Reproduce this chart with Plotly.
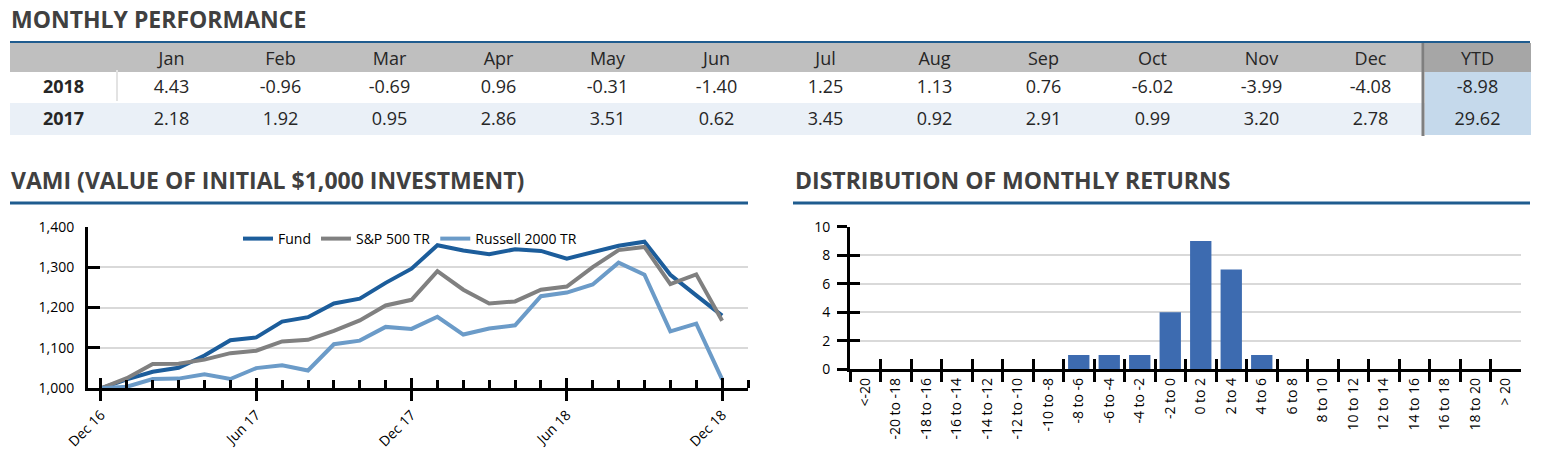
import plotly.graph_objects as go

# page is 1548x476; the html body adds an 8px margin around the figure
PAGE_W, PAGE_H, BODY_M = 1548, 476, 8
W, H = PAGE_W - 2 * BODY_M, PAGE_H - 2 * BODY_M

# ---------------- data ----------------
months = ["Jan", "Feb", "Mar", "Apr", "May", "Jun", "Jul", "Aug", "Sep", "Oct", "Nov", "Dec"]
years = ["2018", "2017"]
ret_2018 = [4.43, -0.96, -0.69, 0.96, -0.31, -1.40, 1.25, 1.13, 0.76, -6.02, -3.99, -4.08]
ret_2017 = [2.18, 1.92, 0.95, 2.86, 3.51, 0.62, 3.45, 0.92, 2.91, 0.99, 3.20, 2.78]
ytd = [-8.98, 29.62]

vami_idx = list(range(25))  # Dec 16 .. Dec 18, monthly
vami_ticks = [0, 6, 12, 18, 24]
vami_ticktext = ["Dec 16", "Jun 17", "Dec 17", "Jun 18", "Dec 18"]
fund = [1000, 1022, 1041, 1051, 1081, 1119, 1126, 1165, 1176, 1210, 1222, 1261, 1296,
        1354, 1341, 1332, 1344, 1340, 1321, 1338, 1353, 1363, 1281, 1230, 1180]
sp500 = [1000, 1025, 1060, 1061, 1071, 1087, 1093, 1116, 1120, 1142, 1168, 1205, 1219,
         1290, 1244, 1210, 1215, 1244, 1252, 1300, 1342, 1350, 1258, 1282, 1167]
russell = [1000, 1004, 1023, 1024, 1035, 1023, 1050, 1057, 1044, 1109, 1118, 1152, 1147,
           1177, 1133, 1148, 1156, 1228, 1237, 1257, 1311, 1281, 1141, 1160, 1022]

dist_bins = ["<-20", "-20 to -18", "-18 to -16", "-16 to -14", "-14 to -12", "-12 to -10",
             "-10 to -8", "-8 to -6", "-6 to -4", "-4 to -2", "-2 to 0", "0 to 2", "2 to 4",
             "4 to 6", "6 to 8", "8 to 10", "10 to 12", "12 to 14", "14 to 16", "16 to 18",
             "18 to 20", "> 20"]
dist_counts = [0, 0, 0, 0, 0, 0, 0, 1, 1, 1, 4, 9, 7, 1, 0, 0, 0, 0, 0, 0, 0, 0]

# ---------------- styling ----------------
FONT = "Open Sans"
TITLE_C = "#404040"
BLUE_LINE = "#1f5c8f"
C_FUND = "#1c5d9b"
C_SP = "#808080"
C_RUS = "#6b9bc8"
C_BAR = "#3d6bb0"
GRID = "#d9d9d9"


def px(x):
    return (x - BODY_M) / W


def py(y):
    return 1 - (y - BODY_M) / H


fig = go.Figure()

# ---------------- table ----------------
hdr_fill = ["#bfbfbf"] * 13 + ["#a6a6a6"]
row_fill = [["#ffffff", "#eaf0f7"]] * 13 + [["#c5d9eb", "#c5d9eb"]]
cols = [years]
for a, b in zip(ret_2018, ret_2017):
    cols.append([f"{a:.2f}", f"{b:.2f}"])
cols.append([f"{v:.2f}" for v in ytd])

fig.add_trace(go.Table(
    domain=dict(x=[px(10), px(1530)], y=[py(136), py(43)]),
    columnwidth=[107] + [109] * 12 + [105],
    header=dict(values=[""] + months + ["YTD"], fill_color=hdr_fill,
                line=dict(color=hdr_fill, width=1), height=28, align="center",
                font=dict(family=FONT, size=18, color="#262626")),
    cells=dict(values=cols, fill_color=row_fill, line=dict(color=row_fill, width=1),
               height=32, align="center",
               font=dict(family=FONT, size=18, color="#262626",
                         weight=["bold"] + ["normal"] * 13)),
))

# ---------------- VAMI lines ----------------
for name, ys, c in [("Fund", fund, C_FUND), ("S&P 500 TR", sp500, C_SP),
                    ("Russell 2000 TR", russell, C_RUS)]:
    fig.add_trace(go.Scatter(x=vami_idx, y=ys, name=name, mode="lines",
                             line=dict(color=c, width=4), xaxis="x", yaxis="y"))
# helper (empty) trace for inner half of crossing ticks
fig.add_trace(go.Scatter(x=[], y=[], xaxis="x3", yaxis="y", showlegend=False,
                         hoverinfo="skip"))

# ---------------- distribution bars ----------------
fig.add_trace(go.Bar(x=dist_bins, y=dist_counts, marker_color=C_BAR, showlegend=False,
                     xaxis="x2", yaxis="y2"))
fig.add_trace(go.Scatter(x=dist_bins, y=[None] * len(dist_bins), mode="markers",
                         xaxis="x4", yaxis="y4", showlegend=False, hoverinfo="skip"))

axfont = dict(family=FONT, size=14, color="#000000")
common = dict(automargin=False, zeroline=False)

fig.update_layout(
    template="none",
    width=W, height=H, margin=dict(l=0, r=0, t=0, b=0, pad=0, autoexpand=False),
    paper_bgcolor="white", plot_bgcolor="white",
    font=dict(family=FONT, color="#000000"),
    bargap=0.3, showlegend=True,
    legend=dict(orientation="h", x=px(238), y=py(223), xanchor="left", yanchor="top",
                font=dict(family=FONT, size=14, color="#000000"),
                bgcolor="rgba(0,0,0,0)", tracegroupgap=0, itemwidth=30),
    xaxis=dict(domain=[px(88), px(748)], range=[-0.5, 25], anchor="y",
               tickmode="array", tickvals=vami_ticks, ticktext=vami_ticktext,
               tickangle=-45, ticks="outside", ticklen=10, tickwidth=3, tickcolor="black",
               showline=True, linewidth=3, linecolor="black", showgrid=False,
               tickfont=axfont,
               minor=dict(ticks="inside", dtick=1, tick0=0, ticklen=8, tickwidth=3,
                          tickcolor="black", showgrid=False), **common),
    xaxis3=dict(overlaying="x", anchor="y", range=[-0.5, 25], tickmode="array",
                tickvals=vami_ticks, ticks="inside", ticklen=10, tickwidth=3,
                tickcolor="black", showticklabels=False, showline=False,
                showgrid=False, **common),
    yaxis=dict(domain=[py(388.3), py(226.7)], range=[1000, 1400], dtick=100,
               tickformat=",", anchor="x", ticks="inside", ticklen=12, tickwidth=3,
               tickcolor="black", showline=True, linewidth=3, linecolor="black",
               showgrid=True, gridcolor=GRID, gridwidth=2,
               tickfont=axfont, ticklabelstandoff=8, **common),
    xaxis2=dict(domain=[px(850), px(1521)], anchor="y2", type="category",
                range=[-0.5, 21.5], tickson="boundaries", ticks="outside", ticklen=10,
                tickwidth=3, tickcolor="black", tickangle=-90, showline=True,
                linewidth=3, linecolor="black", showgrid=False,
                tickfont=axfont, **common),
    xaxis4=dict(overlaying="x2", anchor="y2", type="category", range=[-0.5, 21.5],
                tickson="boundaries", ticks="inside", ticklen=10, tickwidth=3,
                tickcolor="black", showticklabels=False, showline=False,
                showgrid=False, **common),
    yaxis2=dict(domain=[py(369.3), py(226.7)], anchor="x2", range=[0, 10], dtick=2,
                ticks="outside", ticklen=10, tickwidth=3, tickcolor="black",
                showline=True, linewidth=3, linecolor="black", showgrid=True,
                gridcolor=GRID, gridwidth=2, tickfont=axfont,
                ticklabelstandoff=4, **common),
    yaxis4=dict(overlaying="y2", anchor="x2", range=[0, 10], dtick=2, ticks="inside",
                ticklen=10, tickwidth=3, tickcolor="black", showticklabels=False,
                showline=False, showgrid=False, **common),
)

# ---------------- headings & rules ----------------
heads = [("MONTHLY PERFORMANCE", 10, 19), ("VAMI (VALUE OF INITIAL $1,000 INVESTMENT)", 10, 180),
         ("DISTRIBUTION OF MONTHLY RETURNS", 794, 180)]
for t, x, y in heads:
    fig.add_annotation(text="<b>%s</b>" % t, x=px(x), y=py(y), xref="paper", yref="paper",
                       xanchor="left", yanchor="middle", showarrow=False, borderpad=0,
                       font=dict(family=FONT, size=23, color=TITLE_C))

fig.add_shape(type="line", xref="paper", yref="paper", x0=px(10), x1=px(1530),
              y0=py(42), y1=py(42), line=dict(color=BLUE_LINE, width=2))
fig.add_shape(type="line", xref="paper", yref="paper", x0=px(10), x1=px(748),
              y0=py(203), y1=py(203), line=dict(color=BLUE_LINE, width=3))
fig.add_shape(type="line", xref="paper", yref="paper", x0=px(793), x1=px(1530),
              y0=py(203), y1=py(203), line=dict(color=BLUE_LINE, width=3))
# YTD separator
fig.add_shape(type="line", xref="paper", yref="paper", x0=px(1423), x1=px(1423),
              y0=py(43), y1=py(136), line=dict(color="#7f7f7f", width=3))
# faint separator after the year column in the first body row
fig.add_shape(type="line", xref="paper", yref="paper", x0=px(117), x1=px(117),
              y0=py(70), y1=py(101), line=dict(color="#e3e3e3", width=2))

fig.write_html("out.html")
